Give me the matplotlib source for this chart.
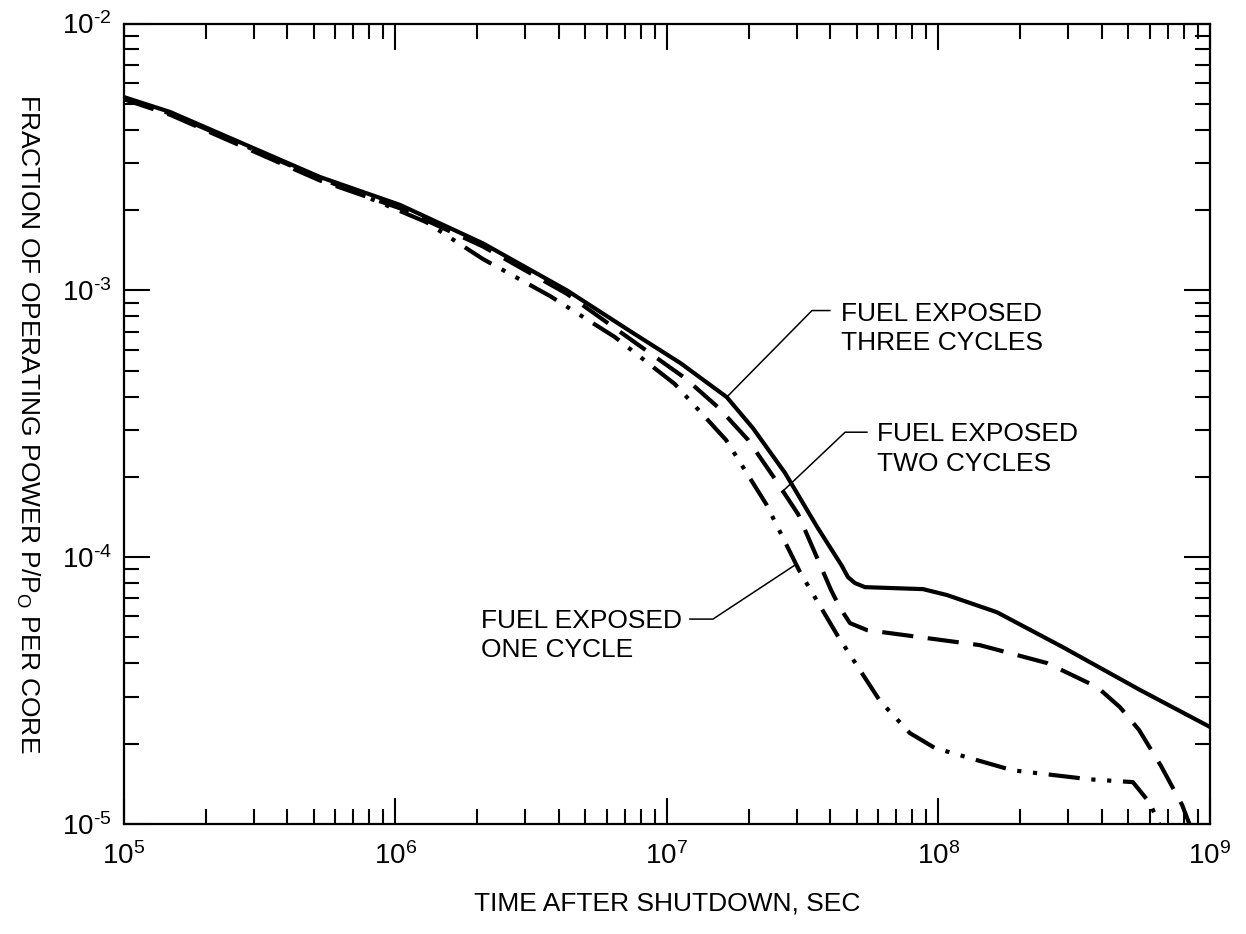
import matplotlib
matplotlib.use("Agg")
import matplotlib.pyplot as plt
from matplotlib.ticker import FuncFormatter
import numpy as np

plt.rcParams['font.family'] = ['Liberation Sans', 'DejaVu Sans']
plt.rcParams['mathtext.fontset'] = 'custom'
plt.rcParams['mathtext.rm'] = 'Liberation Sans'
plt.rcParams['mathtext.default'] = 'regular'

# fuel exposed three cycles (solid)
t3_time = [1e5, 1.48e5, 5.27e5, 1.04e6, 2.10e6, 4.28e6, 7.50e6, 1.12e7, 1.66e7,
           2.07e7, 2.72e7, 3.57e7, 4.40e7, 4.64e7, 4.92e7, 5.36e7, 8.77e7, 1.075e8,
           1.64e8, 2.87e8, 5.52e8, 1e9]
t3_frac = [5.30e-3, 4.66e-3, 2.66e-3, 2.09e-3, 1.50e-3, 1.00e-3, 6.92e-4, 5.34e-4,
           3.98e-4, 3.05e-4, 2.07e-4, 1.30e-4, 9.3e-5, 8.42e-5, 8.0e-5, 7.72e-5,
           7.59e-5, 7.21e-5, 6.22e-5, 4.60e-5, 3.18e-5, 2.31e-5]

# fuel exposed two cycles (dashed)
t2_time = [1e5, 1.48e5, 5.27e5, 1.04e6, 2.10e6, 4.28e6, 7.96e6, 1.165e7, 1.554e7,
           1.99e7, 2.46e7, 3.04e7, 3.51e7, 4.02e7, 4.34e7, 4.72e7, 5.45e7, 1.42e8,
           2.51e8, 3.84e8, 4.66e8, 5.48e8, 6.6e8, 7.89e8, 8.4e8]
t2_frac = [5.2e-3, 4.55e-3, 2.58e-3, 2.03e-3, 1.46e-3, 9.7e-4, 6.18e-4, 4.69e-4,
           3.62e-4, 2.75e-4, 2.01e-4, 1.45e-4, 1.036e-4, 7.53e-5, 6.45e-5, 5.66e-5,
           5.33e-5, 4.68e-5, 4.01e-5, 3.26e-5, 2.74e-5, 2.25e-5, 1.65e-5, 1.18e-5,
           1.0e-5]

# fuel exposed one cycle (dash-dot-dot)
t1_time = [1e5, 1.48e5, 5.27e5, 7.0e5, 1.3e6, 2.1e6, 3.71e6, 6.43e6, 1.07e7,
           1.65e7, 2.32e7, 3.09e7, 4.26e7, 6.09e7, 7.85e7, 9.71e7, 1.87e8, 3.61e8,
           5.2e8, 6.0e8, 6.5e8]
t1_frac = [5.25e-3, 4.6e-3, 2.63e-3, 2.35e-3, 1.80e-3, 1.31e-3, 9.52e-4, 6.68e-4,
           4.45e-4, 2.75e-4, 1.58e-4, 8.79e-5, 5.06e-5, 2.89e-5, 2.19e-5, 1.925e-5,
           1.59e-5, 1.47e-5, 1.435e-5, 1.2e-5, 1.0e-5]

# callouts: text, anchor of text, leader line points
labels = ['FUEL EXPOSED\nTHREE CYCLES', 'FUEL EXPOSED\nTWO CYCLES', 'FUEL EXPOSED\nONE CYCLE']
label_pos = [(4.38e7, 7.19e-4), (5.94e7, 2.54e-4), (1.136e7, 5.08e-5)]
label_ha = ['left', 'left', 'right']
leader_x = [[1.66e7, 3.42e7, 3.98e7], [2.65e7, 4.53e7, 5.45e7], [1.215e7, 1.477e7, 2.96e7]]
leader_y = [[3.98e-4, 8.4e-4, 8.4e-4], [1.754e-4, 2.94e-4, 2.94e-4], [5.86e-5, 5.86e-5, 9.34e-5]]


def pow10(v, pos):
    e = int(round(np.log10(v)))
    s = str(e).replace('-', r'\text{-}')
    return r'$10^{%s}$' % s


fig = plt.figure(figsize=(12.46, 9.34), dpi=100)
ax = fig.add_axes([0.0995, 0.1178, 0.8716, 0.857])

lw = 3.0
ax.plot(t3_time, t3_frac, color='black', lw=lw, solid_joinstyle='round')
ax.plot(t2_time, t2_frac, color='black', lw=lw, dashes=(7.5, 3.5))
ax.plot(t1_time, t1_frac, color='black', lw=lw, dashes=(7.5, 2.8, 1, 2.8, 1, 2.8))

for i in range(3):
    ax.plot(leader_x[i], leader_y[i], color='black', lw=1.1)
    ax.text(label_pos[i][0], label_pos[i][1], labels[i], ha=label_ha[i], va='center',
            multialignment='left', fontsize=19, linespacing=1.3)

ax.set_xscale('log')
ax.set_yscale('log')
ax.set_xlim(1e5, 1e9)
ax.set_ylim(1e-5, 1e-2)
ax.xaxis.set_major_formatter(FuncFormatter(pow10))
ax.yaxis.set_major_formatter(FuncFormatter(pow10))

for s in ax.spines.values():
    s.set_linewidth(1.6)
ax.tick_params(which='both', direction='in', top=True, right=True, width=1.5)
ax.tick_params(which='major', length=19, labelsize=20)
ax.tick_params(which='minor', length=11)
ax.tick_params(axis='x', which='major', pad=13)
ax.tick_params(axis='y', which='major', pad=9)

fig.text(28 / 1246, 1 - 424 / 934, 'FRACTION OF OPERATING POWER P/P$_O$ PER CORE',
         rotation=-90, ha='center', va='center', fontsize=19)
fig.text(667 / 1246, 1 - 903 / 934, 'TIME AFTER SHUTDOWN, SEC',
         ha='center', va='center', fontsize=19)

fig.savefig('out.png', dpi=100)
